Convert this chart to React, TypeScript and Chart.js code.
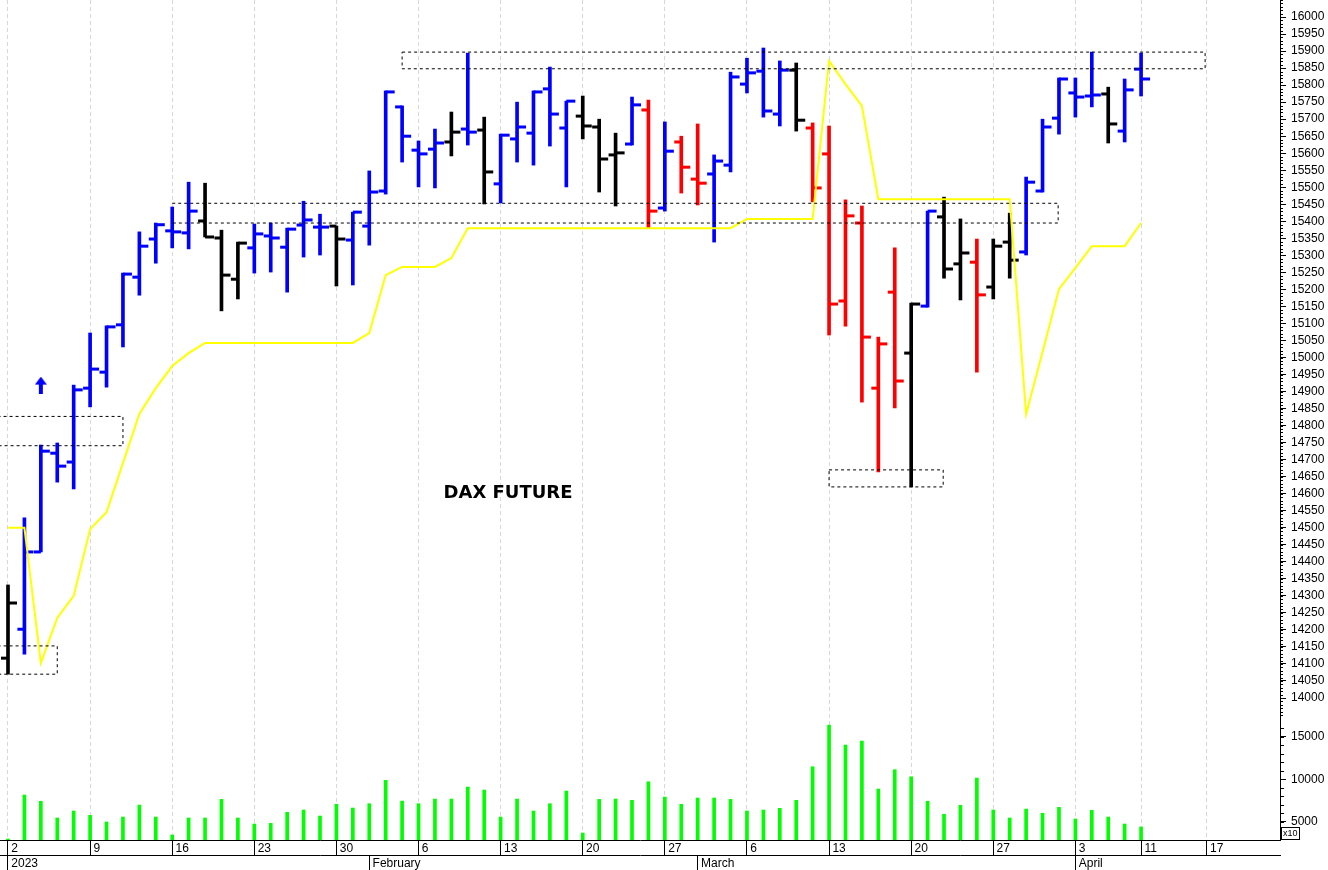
import React, { useEffect, useRef } from 'react';
import { Chart, registerables } from 'chart.js';

Chart.register(...registerables);

// ---- Data (trading day index 0 = 2 Jan 2023 ... 69 = 11 Apr 2023) ----
const opens = [
  14117, 14202, 14429, 14719, 14693,
  14910, 14957, 15096, 15236, 15348,
  15372, 15366, 15401, 15351, 15230,
  15322, 15357, 15324, 15389, 15383,
  15386, 15345, 15386, 15489, 15736,
  15609, 15612, 15633, 15671, 15668,
  15510, 15642, 15659, 15789, 15674,
  15709, 15677, 15595, 15627, 15727,
  15439, 15633, 15524, 15539, 15565,
  15803, 15841, 15715, 15844, 15674,
  15598, 15166, 15395, 14910, 15192,
  15013, 15151, 15413, 15275, 15280,
  15207, 15339, 15310, 15489, 15703,
  15777, 15768, 15774, 15665, 15847,
];
const highs = [
  14332, 14529, 14743, 14749, 14919,
  15072, 15093, 15248, 15369, 15395,
  15442, 15515, 15512, 15374, 15339,
  15392, 15395, 15380, 15459, 15421,
  15386, 15427, 15548, 15783, 15739,
  15636, 15671, 15721, 15894, 15706,
  15656, 15750, 15783, 15853, 15753,
  15768, 15700, 15659, 15765, 15756,
  15692, 15650, 15686, 15595, 15838,
  15879, 15909, 15871, 15865, 15689,
  15680, 15463, 15445, 15060, 15322,
  15160, 15430, 15471, 15407, 15348,
  15348, 15424, 15530, 15700, 15821,
  15821, 15897, 15794, 15818, 15894,
];
const lows = [
  14070, 14129, 14429, 14634, 14614,
  14855, 14913, 15031, 15183, 15277,
  15322, 15319, 15354, 15137, 15172,
  15248, 15251, 15192, 15295, 15301,
  15210, 15213, 15330, 15480, 15574,
  15501, 15498, 15592, 15624, 15451,
  15454, 15574, 15565, 15621, 15501,
  15642, 15486, 15445, 15624, 15380,
  15430, 15483, 15448, 15339, 15545,
  15777, 15706, 15680, 15665, 15457,
  15066, 15092, 14869, 14664, 14852,
  14620, 15148, 15233, 15169, 14957,
  15172, 15233, 15301, 15486, 15656,
  15706, 15736, 15630, 15633, 15768,
];
const closes = [
  14279, 14429, 14725, 14681, 14905,
  14966, 15090, 15245, 15327, 15390,
  15369, 15430, 15354, 15242, 15336,
  15363, 15351, 15377, 15404, 15383,
  15348, 15427, 15486, 15780, 15650,
  15598, 15630, 15662, 15662, 15545,
  15653, 15677, 15780, 15715, 15753,
  15680, 15583, 15601, 15742, 15430,
  15606, 15559, 15512, 15577, 15824,
  15836, 15724, 15844, 15697, 15498,
  15157, 15416, 15060, 15040, 14931,
  15157, 15430, 15260, 15307, 15184,
  15327, 15286, 15515, 15677, 15818,
  15765, 15771, 15686, 15786, 15818,
];
// b = blue, k = black, r = red
const barColorCodes = [
  'k', 'b', 'b', 'b', 'b',
  'b', 'b', 'b', 'b', 'b',
  'b', 'b', 'k', 'k', 'k',
  'b', 'b', 'b', 'b', 'b',
  'k', 'b', 'b', 'b', 'b',
  'b', 'b', 'k', 'b', 'k',
  'b', 'b', 'b', 'b', 'b',
  'k', 'k', 'k', 'b', 'r',
  'b', 'r', 'r', 'b', 'b',
  'b', 'b', 'b', 'k', 'r',
  'r', 'r', 'r', 'r', 'r',
  'k', 'b', 'k', 'k', 'r',
  'k', 'k', 'b', 'b', 'b',
  'b', 'b', 'k', 'b', 'b',
];
const volumes = [
  2970, 8140, 7400, 5440, 6260,
  5750, 4970, 5550, 6960, 5550,
  3440, 5440, 5440, 7630, 5440,
  4730, 4810, 6110, 6380, 5670,
  7050, 6610, 7120, 9870, 7430,
  7120, 7670, 7670, 9080, 8730,
  5550, 7670, 6260, 7120, 8610,
  3670, 7630, 7670, 7520, 9700,
  7900, 7050, 7790, 7790, 7630,
  6260, 6380, 6580, 7520, 11470,
  16370, 14020, 14490, 8850, 11120,
  10290, 7400, 5870, 6930, 10140,
  6380, 5440, 6490, 5990, 6690,
  5320, 6340, 5550, 4730, 4380,
];
const trailStop = [
  14500, 14500, 14103, 14235, 14300,
  14496, 14546, 14690, 14834, 14910,
  14975, 15013, 15043, 15043, 15043,
  15043, 15043, 15043, 15043, 15043,
  15043, 15043, 15072, 15242, 15266,
  15266, 15266, 15292, 15380, 15380,
  15380, 15380, 15380, 15380, 15380,
  15380, 15380, 15380, 15380, 15380,
  15380, 15380, 15380, 15380, 15380,
  15407, 15407, 15407, 15407, 15407,
  15871, 15803, 15739, 15465, 15465,
  15465, 15465, 15465, 15465, 15465,
  15465, 15465, 14834, 15016, 15201,
  15263, 15327, 15327, 15327, 15395,
];

// Dashed zones
const boxLeft = [24, 10, -1, -1, 50];
const boxRight = [72.9, 63.95, 7, 3, 56.95];
const boxTop = [15897, 15453, 14827, 14153, 14670];
const boxBottom = [15848, 15395, 14741, 14070, 14620];
const boxOpenLeft = [false, true, false, false, false];

// Signal arrow
const arrowIdx = [2];
const arrowPrice = [14919];

const chartTitle = 'DAX FUTURE';

// Axis ticks
const weekTickIdx = [0, 5, 10, 15, 20, 25, 30, 35, 40, 45, 50, 55, 60, 65, 69, 73];
const weekTickLabels = ['2', '9', '16', '23', '30', '6', '13', '20', '27', '6', '13', '20', '27', '3', '11', '17'];
const monthTickIdx = [0, 22, 42, 65];
const monthTickLabels = ['2023', 'February', 'March', 'April'];
const priceTicks = [
  14000, 14050, 14100, 14150, 14200, 14250, 14300, 14350, 14400, 14450,
  14500, 14550, 14600, 14650, 14700, 14750, 14800, 14850, 14900, 14950,
  15000, 15050, 15100, 15150, 15200, 15250, 15300, 15350, 15400, 15450,
  15500, 15550, 15600, 15650, 15700, 15750, 15800, 15850, 15900, 15950,
  16000,
];
const volumeTicks = [5000, 10000, 15000];

// Axis ranges
const X_MIN = -0.487;
const X_MAX = 77.46;
const PRICE_MIN = 13583;
const PRICE_MAX = 16050;
const VOL_MIN = 2850;
const VOL_MAX = 101700;

const palette: Record<string, string> = { b: '#0000ff', k: '#000000', r: '#ff0000' };

function volToPrice(v: number) {
  return PRICE_MIN + ((v - VOL_MIN) / (VOL_MAX - VOL_MIN)) * (PRICE_MAX - PRICE_MIN);
}

function makeArrow(color: string) {
  const c = document.createElement('canvas');
  c.width = 12;
  c.height = 17;
  const g = c.getContext('2d')!;
  g.fillStyle = color;
  g.beginPath();
  g.moveTo(6, 0);
  g.lineTo(12, 8);
  g.lineTo(8, 8);
  g.lineTo(8, 17);
  g.lineTo(4, 17);
  g.lineTo(4, 8);
  g.lineTo(0, 8);
  g.closePath();
  g.fill();
  return c;
}

const decorPlugin = {
  id: 'decor',
  afterDraw(chart: any) {
    const { ctx, scales } = chart;
    const xs = scales.x;
    const ys = scales.y;
    const yv = scales.yv;
    ctx.save();
    ctx.strokeStyle = '#000';
    ctx.lineWidth = 1;
    const left = ys.left;
    // minor price ticks
    for (let p = 13950; p <= 16050; p += 10) {
      const py = Math.round(ys.getPixelForValue(p)) + 0.5;
      ctx.beginPath();
      ctx.moveTo(left, py);
      ctx.lineTo(left + 3, py);
      ctx.stroke();
    }
    // minor volume ticks
    for (let v = 3000; v <= 16000; v += 1000) {
      const py = Math.round(yv.getPixelForValue(v)) + 0.5;
      ctx.beginPath();
      ctx.moveTo(left, py);
      ctx.lineTo(left + 4, py);
      ctx.stroke();
    }
    // x10 box
    const bx = Math.round(left) + 1.5;
    const by = Math.round(chart.chartArea.bottom) - 12.5;
    ctx.fillStyle = '#fff';
    ctx.fillRect(bx, by, 18, 12);
    ctx.strokeRect(bx, by, 18, 12);
    ctx.fillStyle = '#000';
    ctx.font = '9px "Liberation Sans", Arial, sans-serif';
    ctx.textAlign = 'left';
    ctx.textBaseline = 'middle';
    ctx.fillText('x10', bx + 1.5, by + 6.5);
    // title
    ctx.font = 'bold 18px "DejaVu Sans", Verdana, sans-serif';
    ctx.textAlign = 'center';
    ctx.textBaseline = 'middle';
    ctx.fillText(chartTitle, xs.getPixelForValue(30.45), ys.getPixelForValue(14602));
    ctx.restore();
  },
};

export default function App() {
  const ref = useRef<HTMLCanvasElement>(null);

  useEffect(() => {
    document.body.style.margin = '0';
    document.body.style.overflow = 'hidden';
    Chart.defaults.font.family = '"Liberation Sans", Arial, sans-serif';
    Chart.defaults.font.size = 12;
    Chart.defaults.color = '#000';

    const colors = barColorCodes.map((c) => palette[c]);
    const arrowCanvas = makeArrow('#0000ff');

    const boxDatasets = boxLeft.map((l, k) => {
      const r = boxRight[k];
      const t = boxTop[k];
      const b = boxBottom[k];
      const pts = boxOpenLeft[k]
        ? [
            { x: l, y: t },
            { x: r, y: t },
            { x: r, y: b },
            { x: l, y: b },
          ]
        : [
            { x: l, y: t },
            { x: r, y: t },
            { x: r, y: b },
            { x: l, y: b },
            { x: l, y: t },
          ];
      return {
        type: 'line',
        label: 'zone' + k,
        data: pts,
        xAxisID: 'x',
        yAxisID: 'y',
        borderColor: '#000',
        borderWidth: 1,
        borderDash: [3, 3],
        pointRadius: 0,
        tension: 0,
        fill: false,
        order: 1,
      };
    });

    let yLabels: string[] = [];

    const chart = new Chart(ref.current!, {
      type: 'line',
      data: {
        datasets: [
          {
            type: 'bar',
            label: 'Volume',
            data: volumes.map((v, i) => ({ x: i, y: v })),
            xAxisID: 'x',
            yAxisID: 'yv',
            backgroundColor: '#00ff00',
            barThickness: 3,
            grouped: false,
            clip: 0,
            order: 10,
          },
          {
            type: 'bar',
            label: 'Range',
            data: highs.map((h, i) => ({ x: i, y: [lows[i], h] })),
            xAxisID: 'x',
            yAxisID: 'y',
            backgroundColor: colors,
            barThickness: 3,
            grouped: false,
            clip: 0,
            order: 6,
          },
          {
            type: 'scatter',
            label: 'Open',
            data: opens.map((o, i) => ({ x: i, y: o })),
            xAxisID: 'x',
            yAxisID: 'y',
            pointStyle: 'dash',
            pointRotation: 180,
            pointRadius: 7,
            pointHoverRadius: 7,
            pointBorderWidth: 3,
            pointBorderColor: colors,
            pointBackgroundColor: colors,
            order: 5,
          },
          {
            type: 'scatter',
            label: 'Close',
            data: closes.map((c, i) => ({ x: i, y: c })),
            xAxisID: 'x',
            yAxisID: 'y',
            pointStyle: 'dash',
            pointRotation: 0,
            pointRadius: 9,
            pointHoverRadius: 9,
            pointBorderWidth: 3,
            pointBorderColor: colors,
            pointBackgroundColor: colors,
            order: 5,
          },
          {
            type: 'line',
            label: 'Stop',
            data: trailStop.map((s, i) => ({ x: i, y: s })),
            xAxisID: 'x',
            yAxisID: 'y',
            borderColor: '#ffff00',
            borderWidth: 2,
            pointRadius: 0,
            tension: 0,
            fill: false,
            order: 2,
          },
          ...boxDatasets,
          {
            type: 'scatter',
            label: 'Arrow',
            data: arrowIdx.map((a, i) => ({ x: a, y: arrowPrice[i] })),
            xAxisID: 'x',
            yAxisID: 'y',
            pointStyle: arrowCanvas,
            pointRadius: 8,
            order: 0,
          },
        ] as any,
      },
      options: {
        responsive: false,
        animation: false,
        events: [],
        layout: { padding: 0, autoPadding: false },
        plugins: {
          legend: { display: false },
          tooltip: { enabled: false },
          title: { display: false },
        },
        scales: {
          x: {
            type: 'linear',
            position: 'bottom',
            weight: 0,
            min: X_MIN,
            max: X_MAX,
            offset: false,
            grid: {
              offset: false,
              drawOnChartArea: true,
              color: '#d6d6ea',
              tickColor: '#000',
              tickLength: 15,
              lineWidth: 1,
            },
            border: { display: true, color: '#000', width: 1, dash: [4, 3] },
            ticks: {
              autoSkip: false,
              maxRotation: 0,
              minRotation: 0,
              align: 'start',
              padding: -14,
              color: '#000',
              font: { size: 12 },
              callback: (_v: any, i: number) => ' ' + weekTickLabels[i],
            },
            afterBuildTicks: (s: any) => {
              s.ticks = weekTickIdx.map((v) => ({ value: v }));
            },
            afterFit: (s: any) => {
              s.height = 15;
              s.paddingLeft = 0;
              s.paddingRight = 0;
            },
          },
          x2: {
            type: 'linear',
            axis: 'x',
            position: 'bottom',
            weight: 1,
            min: X_MIN,
            max: X_MAX,
            offset: false,
            grid: {
              offset: false,
              drawOnChartArea: false,
              color: '#000',
              tickColor: '#000',
              tickLength: 15,
            },
            border: { display: true, color: '#000', width: 1 },
            ticks: {
              autoSkip: false,
              maxRotation: 0,
              minRotation: 0,
              align: 'start',
              padding: -14,
              color: '#000',
              font: { size: 12 },
              callback: (_v: any, i: number) => ' ' + monthTickLabels[i],
            },
            afterBuildTicks: (s: any) => {
              s.ticks = monthTickIdx.map((v) => ({ value: v }));
            },
            afterFit: (s: any) => {
              s.height = 15;
              s.paddingLeft = 0;
              s.paddingRight = 0;
            },
          },
          y: {
            type: 'linear',
            position: 'right',
            min: PRICE_MIN,
            max: PRICE_MAX,
            beginAtZero: false,
            grid: {
              drawOnChartArea: false,
              color: '#000',
              tickColor: '#000',
              tickLength: 6,
            },
            border: { display: true, color: '#000', width: 1 },
            ticks: {
              autoSkip: false,
              padding: 5,
              color: '#000',
              font: { size: 12 },
              callback: (_v: any, i: number) => yLabels[i],
            },
            afterBuildTicks: (s: any) => {
              const t = priceTicks.map((v) => ({ value: v }));
              volumeTicks.forEach((v) => t.push({ value: volToPrice(v) }));
              yLabels = [...priceTicks.map(String), ...volumeTicks.map(String)];
              s.ticks = t;
            },
            afterFit: (s: any) => {
              s.width = 48;
              s.paddingTop = 0;
              s.paddingBottom = 0;
            },
          },
          yv: {
            type: 'linear',
            position: 'right',
            display: false,
            min: VOL_MIN,
            max: VOL_MAX,
            beginAtZero: false,
          },
        } as any,
      },
      plugins: [decorPlugin],
    });

    return () => chart.destroy();
  }, []);

  return (
    <div style={{ width: 1328, height: 870, background: '#fff' }}>
      <canvas ref={ref} width={1328} height={870} style={{ display: 'block', width: 1328, height: 870 }} />
    </div>
  );
}
